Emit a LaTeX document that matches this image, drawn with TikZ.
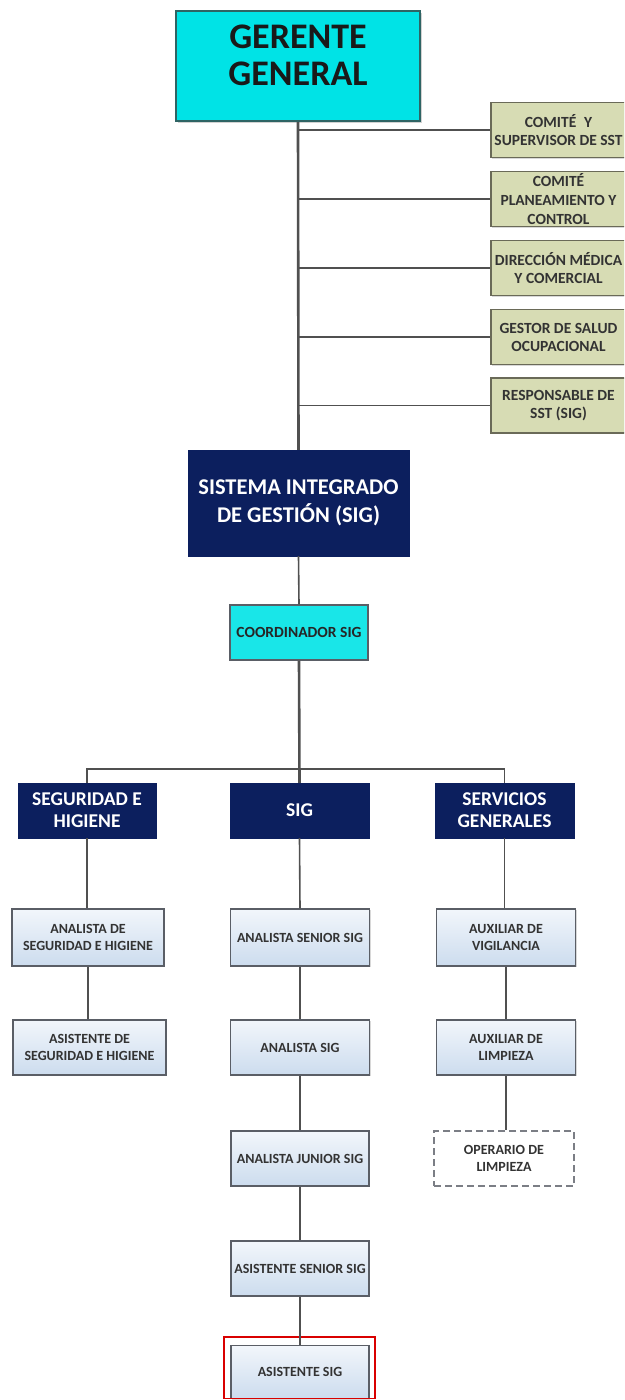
\documentclass[tikz,border=0pt]{standalone}
\usepackage{fontspec}
\setmainfont{Carlito}
\usetikzlibrary{shadows}
\definecolor{cyanbox}{HTML}{00E3E6}
\definecolor{cyanline}{HTML}{2E6464}
\definecolor{navy}{HTML}{0C1F5E}
\definecolor{greenbox}{HTML}{D7DCB4}
\definecolor{greenline}{HTML}{6A6A58}
\definecolor{lbtop}{HTML}{F2F6FB}
\definecolor{lbbot}{HTML}{CCDCEE}
\definecolor{boxline}{HTML}{5A5E66}
\definecolor{conn}{HTML}{505050}
\definecolor{txt}{HTML}{333333}
\tikzset{
  base/.style={rectangle, align=center, inner sep=0pt, font=\bfseries},
  topbox/.style={base, fill=cyanbox, draw=cyanline, line width=2pt, drop shadow={opacity=0.35, shadow xshift=1.5pt, shadow yshift=-1.5pt}},
  toptext/.style={text=black!90, align=center, font=\bfseries\fontsize{36}{37}\selectfont},
  greenb/.style={base, fill=greenbox, draw=greenline, line width=1.5pt, text=txt, font=\bfseries\fontsize{15.5}{18}\selectfont, minimum width=135pt, minimum height=55pt, drop shadow={opacity=0.3, shadow xshift=1pt, shadow yshift=-1pt}},
  navyb/.style={base, fill=navy, draw=navy, text=white, drop shadow={opacity=0.2, shadow xshift=1pt, shadow yshift=-1pt}},
  coordb/.style={base, fill=cyanbox!90!white, draw=boxline, line width=1.2pt, text=black!85, font=\bfseries\fontsize{15.5}{17}\selectfont, minimum width=138pt, minimum height=55pt, drop shadow={opacity=0.3, shadow xshift=1pt, shadow yshift=-1pt}},
  lightb/.style={base, top color=lbtop, bottom color=lbbot, draw=boxline, line width=1.5pt, text=txt, font=\bfseries\fontsize{14}{17}\selectfont, minimum height=55pt, drop shadow={opacity=0.3, shadow xshift=1.2pt, shadow yshift=-1.2pt}},
  dashb/.style={base, fill=white, draw=boxline!80, dash pattern=on 7pt off 4pt, line width=1.5pt, text=txt, font=\bfseries\fontsize{14}{17}\selectfont, minimum width=140pt, minimum height=55pt},
  link/.style={draw=conn, line width=1.6pt},
  trunk/.style={draw=conn, line width=2.6pt}
}
\begin{document}
\begin{tikzpicture}[x=1pt,y=-1pt]
\clip (0,0) rectangle (624,1400);
\fill[white] (0,0) rectangle (624,1400);

% top
\node[topbox, minimum width=244pt, minimum height=110pt,
      label={[toptext, yshift=11pt]center:GERENTE\\GENERAL}] (gg) at (298,66) {};

\node[greenb] (g1) at (558.5,130) {COMITÉ\enspace Y\\SUPERVISOR DE SST};
\node[greenb, font=\bfseries\fontsize{15.5}{19}\selectfont] (g2) at (558.5,199) {COMITÉ\\PLANEAMIENTO Y\\CONTROL};
\node[greenb] (g3) at (558.5,268) {DIRECCIÓN MÉDICA\\Y COMERCIAL};
\node[greenb] (g4) at (558.5,337) {GESTOR DE SALUD\\OCUPACIONAL};
\node[greenb] (g5) at (558.5,405.5) {RESPONSABLE DE\\SST (SIG)};

\node[navyb, minimum width=221pt, minimum height=106pt, font=\bfseries\fontsize{22.5}{28}\selectfont] (sis) at (298.5,503) {SISTEMA INTEGRADO\\DE GESTIÓN (SIG)};
\node[coordb] (coord) at (299,632.5) {COORDINADOR SIG};

% level 2
\node[navyb, minimum width=138pt, minimum height=55pt, font=\bfseries\fontsize{19.5}{22}\selectfont] (seg) at (87,810.5) {SEGURIDAD E\\HIGIENE};
\node[navyb, minimum width=139pt, minimum height=55pt, font=\bfseries\fontsize{19.5}{22}\selectfont] (sig) at (299.5,810.5) {SIG};
\node[navyb, minimum width=139pt, minimum height=55pt, font=\bfseries\fontsize{19.5}{22}\selectfont] (serv) at (504.5,810.5) {SERVICIOS\\GENERALES};

% column 1
\node[lightb, minimum width=152pt, minimum height=57pt] (aseg) at (88,937.5) {ANALISTA DE\\SEGURIDAD E HIGIENE};
\node[lightb, minimum width=153pt] (asseg) at (89.5,1047.5) {ASISTENTE DE\\SEGURIDAD E HIGIENE};

% column 2
\node[lightb, minimum width=139pt, minimum height=57pt] (asen) at (300,937.5) {ANALISTA SENIOR SIG};
\node[lightb, minimum width=139pt] (asig) at (300,1047.5) {ANALISTA SIG};
\node[lightb, minimum width=138pt] (ajun) at (300,1158.5) {ANALISTA JUNIOR SIG};
\node[lightb, minimum width=138pt] (assen) at (300,1268.5) {ASISTENTE SENIOR SIG};
\node[lightb, minimum width=138pt, minimum height=53pt] (assig) at (300,1372) {ASISTENTE SIG};

% column 3
\node[lightb, minimum width=139pt, minimum height=57pt] (avig) at (506,937.5) {AUXILIAR DE\\VIGILANCIA};
\node[lightb, minimum width=139pt] (alim) at (506,1047.5) {AUXILIAR DE\\LIMPIEZA};
\node[dashb] (oper) at (504,1158.5) {OPERARIO DE\\LIMPIEZA};

% highlight
\draw[red!85!black, line width=1.5pt] (224,1337) rectangle (375,1398.5);

% connectors
\draw[trunk] (gg.south) -- (sis.north);
\foreach \g in {g1,g2,g3,g4,g5} \draw[link] (gg.south |- \g.west) -- (\g.west);
\draw[link] (sis.south) -- (coord.north);
\draw[trunk] (coord.south) -- (sig.north);
\coordinate (bus) at (299,769);
\draw[link] (seg.north) |- (bus) -| (serv.north);
\draw[link] (seg.south) -- (seg.south |- aseg.north);
\draw[link] (aseg.south) -- (aseg.south |- asseg.north);
\draw[link] (sig.south) -- (asen.north);
\draw[link] (asen.south) -- (asig.north);
\draw[link] (asig.south) -- (ajun.north);
\draw[link] (ajun.south) -- (assen.north);
\draw[link] (assen.south) -- (assig.north);
\draw[link] (serv.south) -- (serv.south |- avig.north);
\draw[link] (avig.south) -- (avig.south |- alim.north);
\draw[link] (alim.south) -- (alim.south |- oper.north);
\end{tikzpicture}
\end{document}
